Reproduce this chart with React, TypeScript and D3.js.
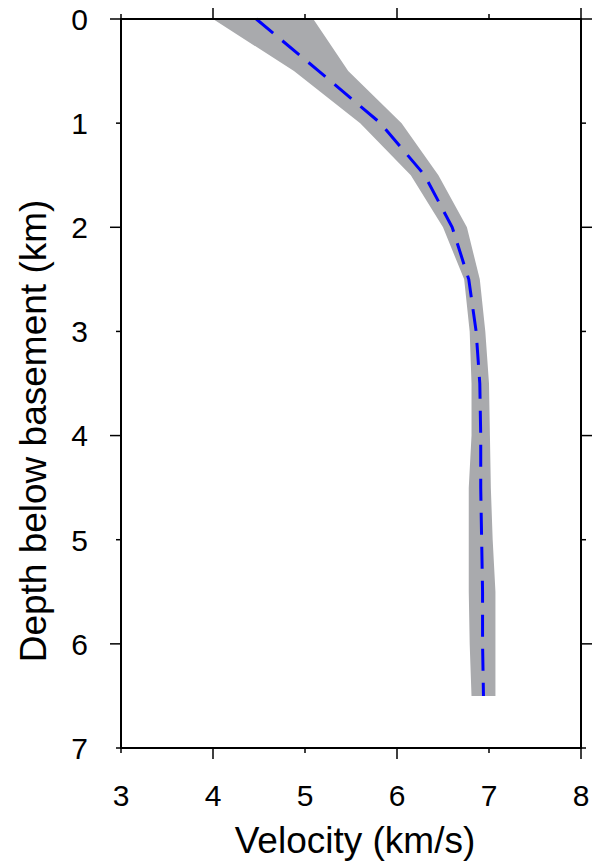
import React from "react";
import * as d3 from "d3";

const depths = [0, 0.5, 1, 1.5, 2, 2.5, 3, 3.5, 4, 4.5, 5, 5.5, 6, 6.5];
const centerVel = [4.47, 5.15, 5.82, 6.3, 6.6, 6.78, 6.86, 6.9, 6.91, 6.91, 6.92, 6.93, 6.93, 6.94];
const lowerVel = [4.0, 4.88, 5.6, 6.15, 6.5, 6.73, 6.79, 6.81, 6.81, 6.78, 6.78, 6.78, 6.79, 6.81];
const upperVel = [5.09, 5.47, 6.05, 6.45, 6.76, 6.9, 6.96, 7.0, 7.01, 7.02, 7.04, 7.07, 7.07, 7.07];
const xTicks = [3, 4, 5, 6, 7, 8];
const yTicks = [0, 1, 2, 3, 4, 5, 6, 7];

export default function App() {
  const W = 593, H = 867;
  const left = 121, right = 581, top = 19, bottom = 748;
  const x = d3.scaleLinear().domain([3, 8]).range([left, right]);
  const y = d3.scaleLinear().domain([0, 7]).range([top, bottom]);
  const rows = depths.map((d, i) => ({ d, c: centerVel[i], lo: lowerVel[i], hi: upperVel[i] }));
  const area = d3.area<any>().y((r) => y(r.d)).x0((r) => x(r.lo)).x1((r) => x(r.hi));
  const line = d3.line<any>().x((r) => x(r.c)).y((r) => y(r.d));
  const font = "Liberation Sans, Arial, Helvetica, sans-serif";
  const tickLen = (v: number) => (v % 2 === 0 ? 11 : 5);
  return (
    <svg width={W} height={H} style={{ position: "absolute", left: 0, top: 0 }} fontFamily={font}>
      <rect width={W} height={H} fill="#fff" />
      <path d={area(rows) || ""} fill="#a9aaad" stroke="none" />
      <path d={line(rows) || ""} fill="none" stroke="#0000ff" strokeWidth={3} strokeDasharray="22,12" />
      <rect x={left} y={top} width={right - left} height={bottom - top} fill="none" stroke="#000" strokeWidth={2} />
      {xTicks.map((v) => (
        <g key={"x" + v}>
          <line x1={x(v)} x2={x(v)} y1={top} y2={top - tickLen(v)} stroke="#000" strokeWidth={1.5} />
          <line x1={x(v)} x2={x(v)} y1={bottom} y2={bottom + tickLen(v)} stroke="#000" strokeWidth={1.5} />
          <text x={x(v)} y={806} textAnchor="middle" fontSize={30} fill="#000">{v}</text>
        </g>
      ))}
      {yTicks.map((v) => (
        <g key={"y" + v}>
          <line x1={left} x2={left - tickLen(v)} y1={y(v)} y2={y(v)} stroke="#000" strokeWidth={1.5} />
          <line x1={right} x2={right + tickLen(v)} y1={y(v)} y2={y(v)} stroke="#000" strokeWidth={1.5} />
          <text x={88} y={y(v) + 10.8} textAnchor="end" fontSize={30} fill="#000">{v}</text>
        </g>
      ))}
      <text x={355} y={853} textAnchor="middle" fontSize={37} fill="#000">Velocity (km/s)</text>
      <text transform="translate(46,431) rotate(-90)" textAnchor="middle" fontSize={37} fill="#000">Depth below basement (km)</text>
    </svg>
  );
}
